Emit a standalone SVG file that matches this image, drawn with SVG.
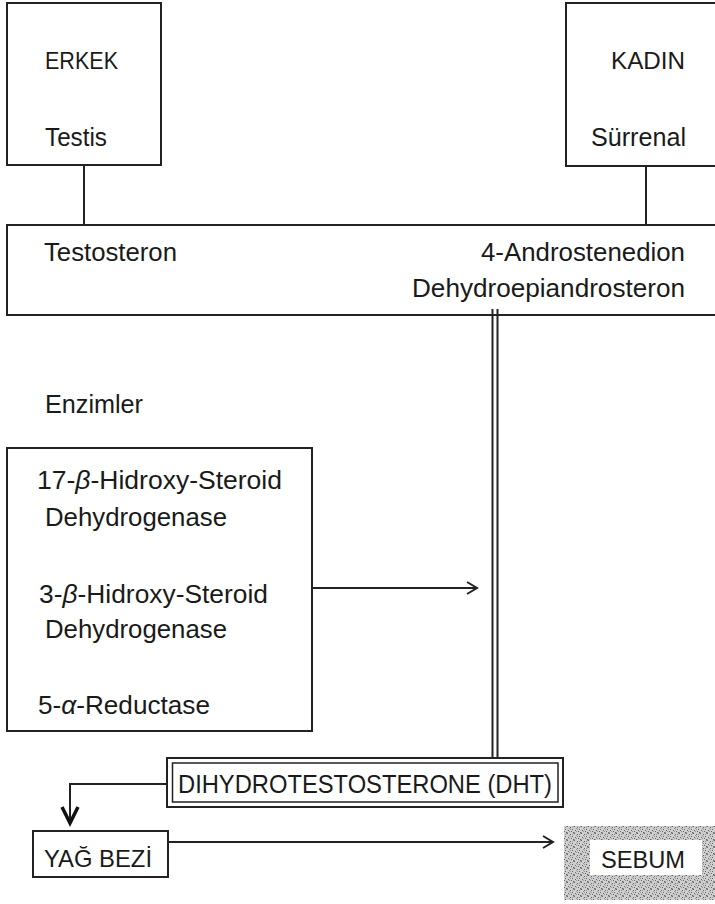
<svg xmlns="http://www.w3.org/2000/svg" width="715" height="904" viewBox="0 0 715 904">
<style>
.box{fill:#fff;stroke:#222;stroke-width:2}
.ln{fill:none;stroke:#222;stroke-width:2}
text{font-family:"Liberation Sans",Arial,sans-serif;fill:#1a1a1a}
.t23{font-size:23px}
.t24{font-size:24px}
.t25{font-size:25px}
.t26{font-size:26px}
.dot{fill:#666}
.dl{fill:#999}
</style>
<defs>
<marker id="open" markerUnits="userSpaceOnUse" markerWidth="14" markerHeight="14" refX="11" refY="7" orient="auto">
<path d="M1,1 L11,7 L1,13" fill="none" stroke="#222" stroke-width="2"/>
</marker>
<marker id="bold" markerUnits="userSpaceOnUse" markerWidth="22" markerHeight="22" refX="17" refY="10" orient="auto">
<path d="M1,2 L17,10 L1,18" fill="none" stroke="#111" stroke-width="3.5"/>
</marker>
<pattern id="stipple" width="7" height="7" patternUnits="userSpaceOnUse">
<rect width="7" height="7" fill="#cfcfcf"/>
<rect class="dot" x="0" y="0" width="1" height="1"/>
<rect class="dot" x="3" y="1" width="1" height="1"/>
<rect class="dot" x="5" y="3" width="1" height="1"/>
<rect class="dot" x="1" y="4" width="1" height="1"/>
<rect class="dot" x="4" y="5" width="1" height="1"/>
<rect class="dot" x="6" y="6" width="1" height="1"/>
<rect class="dl" x="2" y="2" width="1" height="1"/>
<rect class="dl" x="6" y="0" width="1" height="1"/>
<rect class="dl" x="0" y="6" width="1" height="1"/>
<rect class="dl" x="2" y="5" width="1" height="1"/>
<rect class="dl" x="5" y="1" width="1" height="1"/>
<rect class="dl" x="3" y="3" width="1" height="1"/>
</pattern>
</defs>

<g id="connectors">
<line class="ln" x1="84" y1="165" x2="84" y2="225"/>
<line class="ln" x1="646" y1="166" x2="646" y2="225"/>
<line class="ln" x1="492.5" y1="309" x2="492.5" y2="758"/>
<line class="ln" x1="497.5" y1="309" x2="497.5" y2="758"/>
<line class="ln" x1="312" y1="588" x2="477" y2="588" marker-end="url(#open)"/>
<path class="ln" d="M167,784 H70 V823" marker-end="url(#bold)"/>
<line class="ln" x1="168" y1="842" x2="553" y2="842" marker-end="url(#open)"/>
</g>

<g id="erkek">
<rect class="box" x="7" y="3" width="154" height="162"/>
<text class="t24" x="45" y="69" textLength="73" lengthAdjust="spacingAndGlyphs">ERKEK</text>
<text class="t25" x="45" y="146" textLength="62" lengthAdjust="spacingAndGlyphs">Testis</text>
</g>

<g id="kadin">
<rect class="box" x="566" y="3" width="160" height="163"/>
<text class="t24" x="611" y="69" textLength="74" lengthAdjust="spacingAndGlyphs">KADIN</text>
<text class="t25" x="591" y="146" textLength="95" lengthAdjust="spacingAndGlyphs">Sürrenal</text>
</g>

<g id="hormonlar">
<rect class="box" x="7" y="225" width="720" height="90"/>
<line class="ln" x1="492.5" y1="309" x2="492.5" y2="316"/>
<line class="ln" x1="497.5" y1="309" x2="497.5" y2="316"/>
<text class="t25" x="44" y="261" textLength="133" lengthAdjust="spacingAndGlyphs">Testosteron</text>
<text class="t25" x="481" y="261" textLength="204" lengthAdjust="spacingAndGlyphs">4-Androstenedion</text>
<text class="t25" x="412" y="297" textLength="273" lengthAdjust="spacingAndGlyphs">Dehydroepiandrosteron</text>
</g>

<g id="enzimler-label">
<text class="t25" x="45" y="413" textLength="98" lengthAdjust="spacingAndGlyphs">Enzimler</text>
</g>

<g id="enzimler">
<rect class="box" x="7" y="448" width="305" height="283"/>
<text class="t26" x="37" y="489" textLength="245" lengthAdjust="spacingAndGlyphs">17-<tspan font-style="italic">β</tspan>-Hidroxy-Steroid</text>
<text class="t25" x="45" y="526" textLength="182" lengthAdjust="spacingAndGlyphs">Dehydrogenase</text>
<text class="t26" x="39" y="603" textLength="229" lengthAdjust="spacingAndGlyphs">3-<tspan font-style="italic">β</tspan>-Hidroxy-Steroid</text>
<text class="t25" x="45" y="638" textLength="182" lengthAdjust="spacingAndGlyphs">Dehydrogenase</text>
<text class="t26" x="38" y="714" textLength="172" lengthAdjust="spacingAndGlyphs">5-<tspan font-style="italic">α</tspan>-Reductase</text>
</g>

<g id="dht">
<rect class="box" x="167" y="758" width="396" height="49"/>
<rect x="172.5" y="763" width="385.5" height="39" fill="none" stroke="#222" stroke-width="1.5"/>
<text class="t26" x="178" y="793" textLength="374" lengthAdjust="spacingAndGlyphs">DIHYDROTESTOSTERONE (DHT)</text>
</g>

<g id="yag-bezi">
<rect class="box" x="33" y="831" width="135" height="46"/>
<text class="t24" x="44" y="867" textLength="108" lengthAdjust="spacingAndGlyphs">YAĞ BEZİ</text>
</g>

<g id="sebum">
<rect x="564" y="826" width="152" height="74" fill="url(#stipple)"/>
<rect x="590" y="840" width="112" height="35" fill="#fff"/>
<text class="t24" x="601" y="868" textLength="84" lengthAdjust="spacingAndGlyphs">SEBUM</text>
</g>
</svg>
